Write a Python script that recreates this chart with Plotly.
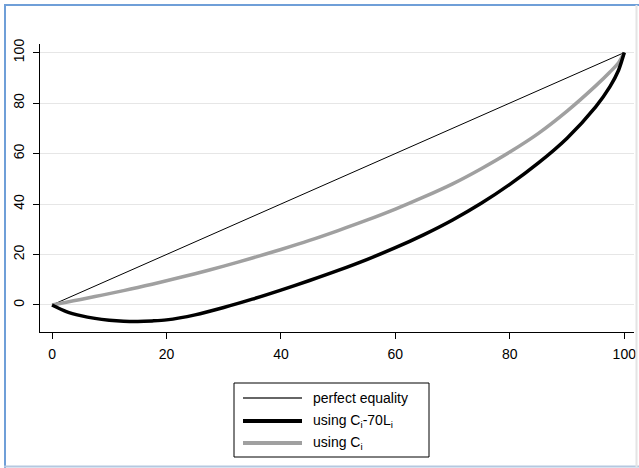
import plotly.graph_objects as go

# ---- data ----
pop_share = [0, 2.5, 5, 7.5, 10, 12.5, 15, 17.5, 20, 25, 30, 35, 40, 45, 50,
             55, 60, 65, 70, 75, 80, 85, 90, 95, 97.5, 99, 100]
equality = list(pop_share)
using_c_minus_70l = [0, -2.6, -4.2, -5.3, -6.0, -6.4, -6.5, -6.3, -5.9, -3.9,
                     -1.0, 2.3, 5.9, 9.7, 13.7, 18.0, 22.7, 27.9, 33.7, 40.3,
                     47.8, 56.3, 66.1, 78.5, 86.5, 93.0, 100]
using_c = [0, 1.1, 2.2, 3.35, 4.5, 5.7, 6.95, 8.25, 9.6, 12.4, 15.4, 18.6,
           22.0, 25.6, 29.5, 33.6, 38.0, 42.8, 48.0, 54.0, 60.6, 68.0, 76.8,
           86.8, 92.3, 96.0, 100]
x_ticks = [0, 20, 40, 60, 80, 100]
y_ticks = [0, 20, 40, 60, 80, 100]
legend_labels = ["perfect equality", "using C<sub>i</sub>-70L<sub>i</sub>",
                 "using C<sub>i</sub>"]

FONT = "Liberation Sans, Arial, sans-serif"

fig = go.Figure()
fig.add_trace(go.Scatter(x=pop_share, y=equality, mode="lines",
                         line=dict(color="#000000", width=1), showlegend=False))
fig.add_trace(go.Scatter(x=pop_share, y=using_c, mode="lines",
                         line=dict(color="#a0a0a0", width=3.5, shape="spline",
                                   smoothing=0.8),
                         showlegend=False))
fig.add_trace(go.Scatter(x=pop_share, y=using_c_minus_70l, mode="lines",
                         line=dict(color="#000000", width=3.5, shape="spline",
                                   smoothing=0.8),
                         showlegend=False))

# plot area: x px 40..634, y px 44..332
fig.update_layout(
    width=639, height=468,
    margin=dict(l=40, r=5, t=44, b=136, autoexpand=False),
    paper_bgcolor="white", plot_bgcolor="white",
    font=dict(family=FONT, size=13, color="#000000"),
    showlegend=False,
)
fig.update_xaxes(range=[-2.1, 101.7], tickvals=x_ticks, ticks="outside",
                 ticklen=6, tickcolor="#000", showline=True, linecolor="#000",
                 linewidth=1, showgrid=False, zeroline=False, automargin=False,
                 ticklabelstandoff=3, tickfont=dict(size=14))
fig.update_yaxes(range=[-10.7, 103.4], tickvals=y_ticks, ticks="outside",
                 ticklen=6, tickcolor="#000", showline=True, linecolor="#000",
                 linewidth=1, showgrid=True, gridcolor="#e6e6e6", gridwidth=1,
                 zeroline=False, tickangle=-90, ticklabelstandoff=3,
                 automargin=False, tickfont=dict(size=14))

# outer frame (window border)
def px2x(px):
    return (px - 40) / 594.0

def py2y(py):
    return (332 - py) / 288.0

shapes = [
    dict(type="line", xref="paper", yref="paper", x0=px2x(5), x1=px2x(5),
         y0=py2y(4), y1=py2y(468), line=dict(color="#6f9fd8", width=2)),
    dict(type="line", xref="paper", yref="paper", x0=px2x(4), x1=px2x(640),
         y0=py2y(5), y1=py2y(5), line=dict(color="#6f9fd8", width=2)),
    dict(type="line", xref="paper", yref="paper", x0=px2x(4), x1=px2x(640),
         y0=py2y(466.5), y1=py2y(466.5), line=dict(color="#b4c8e0", width=2)),
    dict(type="line", xref="paper", yref="paper", x0=px2x(636.5), x1=px2x(636.5),
         y0=py2y(5), y1=py2y(467), line=dict(color="#e4e4e4", width=2)),
]

# legend box
shapes.append(dict(type="rect", xref="paper", yref="paper",
                   x0=px2x(234), x1=px2x(429), y0=py2y(383), y1=py2y(457),
                   line=dict(color="#000000", width=1), fillcolor="white"))
legend_rows = [398, 421, 443]
legend_styles = [("#333333", 1.5), ("#000000", 4), ("#a0a0a0", 4)]
annotations = []
for label, row, (col, w) in zip(legend_labels, legend_rows, legend_styles):
    shapes.append(dict(type="line", xref="paper", yref="paper",
                       x0=px2x(243), x1=px2x(302), y0=py2y(row), y1=py2y(row),
                       line=dict(color=col, width=w)))
    annotations.append(dict(xref="paper", yref="paper", x=px2x(311),
                            y=py2y(row), text=label, showarrow=False,
                            xanchor="left", yanchor="middle",
                            font=dict(family=FONT, size=14, color="#000")))

fig.update_layout(shapes=shapes, annotations=annotations)
fig.write_html(
    "out.html",
    config={"displayModeBar": False},
    post_script="document.body.style.margin='0';document.body.style.overflow='hidden';",
)
